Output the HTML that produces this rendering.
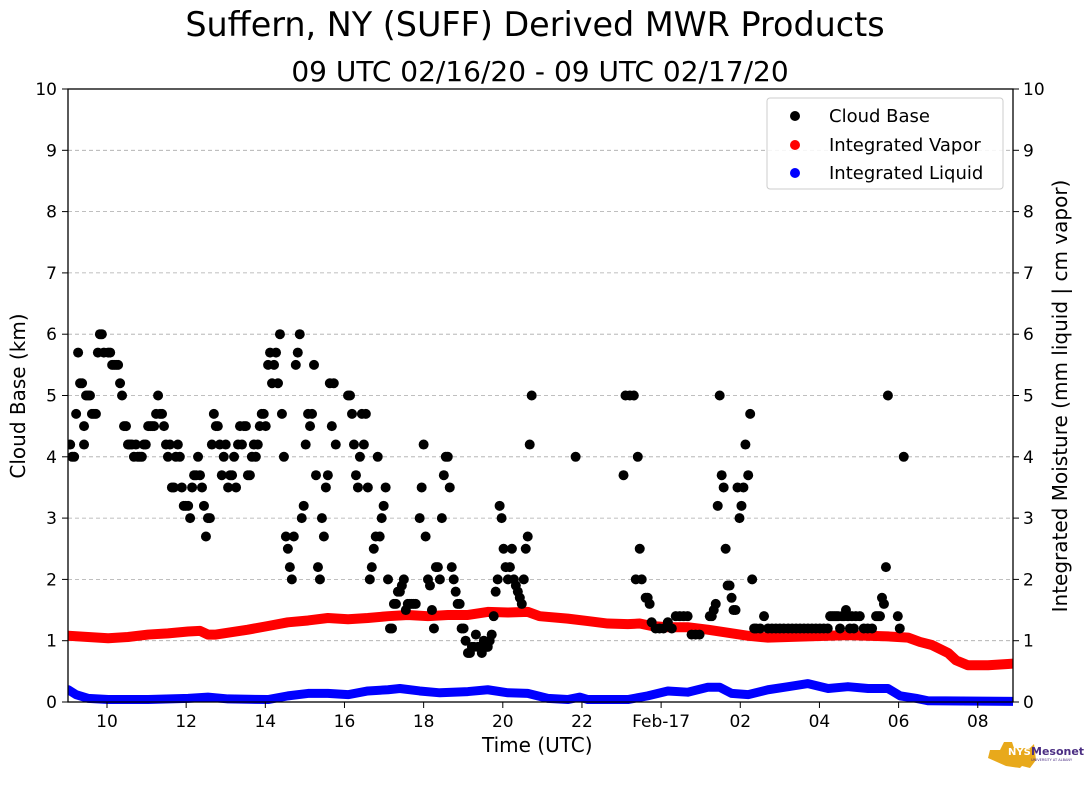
<!DOCTYPE html>
<html><head><meta charset="utf-8"><style>
body{margin:0;background:#fff;font-family:"Liberation Sans","DejaVu Sans",sans-serif;}
</style></head><body>
<svg id="c" width="1089" height="804" xmlns="http://www.w3.org/2000/svg" font-family="DejaVu Sans, Liberation Sans, sans-serif">
<defs><clipPath id="pc"><rect x="68" y="60" width="945" height="660"/></clipPath></defs>
<text x="535" y="36" font-size="33.4" text-anchor="middle">Suffern, NY (SUFF) Derived MWR Products</text>
<text x="540" y="81" font-size="28" text-anchor="middle">09 UTC 02/16/20 - 09 UTC 02/17/20</text>
<g id="grid"></g>
<g id="marks" clip-path="url(#pc)"></g>
<rect x="68" y="89" width="945" height="613" fill="none" stroke="#000" stroke-width="1.3"/>
<g id="axes" font-size="17"></g>
<text x="482" y="752" font-size="20">Time (UTC)</text>
<text transform="translate(25,396) rotate(-90)" font-size="20" text-anchor="middle">Cloud Base (km)</text>
<text transform="translate(1067,396) rotate(-90)" font-size="20" text-anchor="middle">Integrated Moisture (mm liquid | cm vapor)</text>
<g>
<rect x="767" y="98" width="236" height="91" rx="3" fill="#fff" fill-opacity="0.85" stroke="#ccc"/>
<circle cx="795" cy="116" r="5" fill="#000"/><text x="829" y="122" font-size="18">Cloud Base</text>
<circle cx="795" cy="145" r="5" fill="red"/><text x="829" y="151" font-size="18">Integrated Vapor</text>
<circle cx="795" cy="173" r="5" fill="blue"/><text x="829" y="179" font-size="18">Integrated Liquid</text>
</g>
<g>
<path d="M990,750 L1000,750 L1004,742 L1012,742 L1014,748 L1030,748 L1034,744 L1036,760 L1030,768 L1022,766 L1020,768 L1006,766 L988,758 Z" fill="#e8a91b"/>
<text x="1008" y="755" font-size="10" font-weight="bold" fill="#fff">NYS</text>
<text x="1031" y="755" font-size="11" font-weight="bold" fill="#4b2e83">Mesonet</text>
<text x="1031" y="761" font-size="3.5" fill="#4b2e83">UNIVERSITY AT ALBANY</text>
</g>
</svg>
<script>
const cbHours=[9.07,9.12,9.17,9.22,9.27,9.32,9.37,9.42,9.42,9.47,9.52,9.57,9.62,9.67,9.72,9.77,9.82,9.87,9.92,
10.03,10.08,10.13,10.18,10.23,10.28,10.33,10.38,10.43,10.48,10.53,10.58,10.63,10.68,10.73,10.78,10.83,10.88,10.93,10.98,
11.04,11.09,11.14,11.19,11.24,11.29,11.34,11.39,11.44,11.49,11.54,11.59,11.64,11.69,11.74,11.79,11.84,11.89,11.94,11.99,
12.05,12.1,12.15,12.2,12.25,12.3,12.35,12.4,12.45,12.5,12.55,12.6,12.65,12.7,12.75,12.8,12.85,12.9,12.95,13.0,
13.06,13.11,13.16,13.21,13.26,13.31,13.36,13.41,13.46,13.51,13.56,13.61,13.66,13.71,13.76,13.81,13.86,13.91,13.96,14.01,
14.07,14.12,14.17,14.22,14.27,14.32,14.37,14.42,14.47,14.52,14.57,14.62,14.67,14.72,14.77,14.82,14.87,14.92,14.97,15.02,
15.08,15.13,15.18,15.23,15.28,15.33,15.38,15.43,15.48,15.53,15.58,15.63,15.68,15.73,15.78,
16.09,16.14,16.19,16.24,16.29,16.34,16.39,16.44,16.49,16.54,16.59,16.64,16.69,16.74,16.79,16.84,16.89,16.94,16.99,17.04,
17.1,17.15,17.2,17.25,17.3,17.35,17.4,17.45,17.5,17.55,17.6,17.65,17.7,17.75,17.8,17.9,17.95,18.0,18.05,
18.11,18.16,18.21,18.26,18.31,18.36,18.41,18.46,18.51,18.56,18.61,18.66,18.71,18.76,18.81,18.86,18.91,18.96,19.01,19.06,
19.12,19.17,19.22,19.27,19.32,19.37,19.42,19.47,19.52,19.57,19.62,19.67,19.72,19.77,19.82,19.87,19.92,19.97,20.02,20.07,
20.13,20.18,20.23,20.28,20.33,20.38,20.43,20.48,20.53,20.58,20.63,20.68,20.73,21.84,23.05,23.1,
23.21,23.31,23.36,23.41,23.46,23.51,23.61,23.66,23.71,23.76,23.86,23.96,24.06,
24.17,24.27,24.37,24.47,24.57,24.67,24.77,24.87,24.97,
25.23,25.28,25.33,25.38,25.43,25.48,25.53,25.58,25.63,25.68,25.73,25.78,25.83,25.88,25.93,25.98,26.03,26.08,26.13,
26.2,26.25,26.3,26.35,26.4,26.5,26.6,26.7,26.8,26.9,27.0,27.1,
27.21,27.31,27.41,27.51,27.61,27.71,27.81,27.91,28.01,28.11,28.21,
28.27,28.32,28.37,28.42,28.47,28.52,28.57,28.62,28.67,28.72,28.77,28.82,28.87,28.92,29.02,29.12,29.22,
29.33,29.43,29.48,29.53,29.58,29.63,29.68,29.73,29.98,30.03,30.13];
const cbKm=[4.2,4.0,4.0,4.7,5.7,5.2,5.2,4.5,4.2,5.0,5.0,5.0,4.7,4.7,4.7,5.7,6.0,6.0,5.7,5.7,5.7,5.5,5.5,5.5,5.5,5.2,5.0,4.5,4.5,4.2,4.2,4.2,4.0,4.2,4.0,4.0,4.0,4.2,4.2,4.5,4.5,4.5,4.5,4.7,5.0,4.7,4.7,4.5,4.2,4.0,4.2,3.5,3.5,4.0,4.2,4.0,3.5,3.2,3.2,3.2,3.0,3.5,3.7,3.7,4.0,3.7,3.5,3.2,2.7,3.0,3.0,4.2,4.7,4.5,4.5,4.2,3.7,4.0,4.2,3.5,3.7,3.7,4.0,3.5,4.2,4.5,4.2,4.5,4.5,3.7,3.7,4.0,4.2,4.0,4.2,4.5,4.7,4.7,4.5,5.5,5.7,5.2,5.5,5.7,5.2,6.0,4.7,4.0,2.7,2.5,2.2,2.0,2.7,5.5,5.7,6.0,3.0,3.2,4.2,4.7,4.5,4.7,5.5,3.7,2.2,2.0,3.0,2.7,3.5,3.7,5.2,4.5,5.2,4.2,5.0,5.0,4.7,4.2,3.7,3.5,4.0,4.7,4.2,4.7,3.5,2.0,2.2,2.5,2.7,4.0,2.7,3.0,3.2,3.5,2.0,1.2,1.2,1.6,1.6,1.8,1.8,1.9,2.0,1.5,1.6,1.6,1.6,1.6,1.6,3.0,3.5,4.2,2.7,2.0,1.9,1.5,1.2,2.2,2.2,2.0,3.0,3.7,4.0,4.0,3.5,2.2,2.0,1.8,1.6,1.6,1.2,1.2,1.0,0.8,0.8,0.9,0.9,1.1,0.9,0.9,0.8,1.0,0.9,0.9,1.0,1.1,1.4,1.8,2.0,3.2,3.0,2.5,2.2,2.0,2.2,2.5,2.0,1.9,1.8,1.7,1.6,2.0,2.5,2.7,4.2,5.0,4.0,3.7,5.0,5.0,5.0,2.0,4.0,2.5,2.0,1.7,1.7,1.6,1.3,1.2,1.2,1.2,1.3,1.2,1.4,1.4,1.4,1.4,1.1,1.1,1.1,1.4,1.4,1.5,1.6,3.2,5.0,3.7,3.5,2.5,1.9,1.9,1.7,1.5,1.5,3.5,3.0,3.2,3.5,4.2,3.7,4.7,2.0,1.2,1.2,1.2,1.4,1.2,1.2,1.2,1.2,1.2,1.2,1.2,1.2,1.2,1.2,1.2,1.2,1.2,1.2,1.2,1.2,1.4,1.4,1.4,1.4,1.4,1.2,1.4,1.4,1.5,1.4,1.2,1.4,1.2,1.4,1.4,1.2,1.2,1.2,1.4,1.4,1.4,1.7,1.6,2.2,5.0,1.4,1.2,4.0];
const vapHours=[9.02,9.52,10.03,10.53,11.04,11.54,12.05,12.35,12.55,12.75,13.06,13.56,14.07,14.57,15.08,15.58,16.09,16.59,17.1,17.6,18.11,18.61,19.12,19.62,20.13,20.63,20.93,21.64,22.15,22.65,23.16,23.46,23.76,24.17,24.67,25.18,25.68,26.2,26.7,27.21,27.71,28.22,28.72,29.23,29.73,30.24,30.54,30.84,31.25,31.45,31.75,32.26,32.76,33];
const vapVals=[1.08,1.06,1.04,1.06,1.1,1.12,1.15,1.16,1.1,1.1,1.13,1.18,1.24,1.3,1.33,1.37,1.35,1.37,1.4,1.42,1.4,1.42,1.42,1.47,1.46,1.47,1.4,1.36,1.32,1.28,1.27,1.28,1.24,1.22,1.22,1.18,1.13,1.08,1.05,1.06,1.07,1.08,1.09,1.08,1.07,1.05,0.98,0.93,0.8,0.68,0.6,0.6,0.62,0.63];
const liqHours=[9.02,9.22,9.52,10.03,11.04,12.05,12.55,13.06,14.07,14.57,15.08,15.58,16.09,16.59,17.1,17.4,17.9,18.41,19.12,19.62,20.13,20.63,21.14,21.64,21.94,22.15,23.16,23.66,24.17,24.67,25.18,25.48,25.78,26.2,26.7,27.21,27.71,28.22,28.72,29.23,29.73,30.04,30.44,30.74,33];
const liqVals=[0.2,0.12,0.06,0.04,0.04,0.06,0.08,0.05,0.04,0.1,0.14,0.14,0.12,0.18,0.2,0.22,0.18,0.15,0.17,0.2,0.15,0.14,0.06,0.04,0.08,0.04,0.04,0.1,0.18,0.16,0.24,0.24,0.14,0.12,0.2,0.25,0.3,0.22,0.25,0.22,0.22,0.1,0.06,0.02,0.01];
const xTicks=[10,12,14,16,18,20,22,24,26,28,30,32];
const xTickLabels=["10","12","14","16","18","20","22","Feb-17","02","04","06","08"];
const yTicks=[0,1,2,3,4,5,6,7,8,9,10];

const NS="http://www.w3.org/2000/svg";
const X=h=>107+(h-10)*39.58;
const Y=v=>702-v/10*613;
function mk(t,a,p){const e=document.createElementNS(NS,t);for(const k in a)e.setAttribute(k,a[k]);p.appendChild(e);return e;}
const grid=document.getElementById('grid'),marks=document.getElementById('marks'),axes=document.getElementById('axes');
yTicks.forEach(v=>{
  if(v>0&&v<10){const g=mk('line',{x1:68,x2:1013,y1:Y(v),y2:Y(v),stroke:'#aaa','stroke-dasharray':'4,3','stroke-width':0.8},grid);
  
  }
  mk('line',{x1:62,x2:68,y1:Y(v),y2:Y(v),stroke:'#000'},axes);
  mk('line',{x1:1013,x2:1019,y1:Y(v),y2:Y(v),stroke:'#000'},axes);
  const t=mk('text',{x:57,y:Y(v)+6,'text-anchor':'end'},axes);t.textContent=v;
  
  
  const t2=mk('text',{x:1023,y:Y(v)+6},axes);t2.textContent=v;
  
  
});
xTicks.forEach((h,i)=>{
  mk('line',{x1:X(h),x2:X(h),y1:702,y2:708,stroke:'#000'},axes);
  const t=mk('text',{x:X(h),y:727,'text-anchor':'middle'},axes);t.textContent=xTickLabels[i];
  
  
});
function line(hs,vs,col,w,name){
  const p=mk('polyline',{points:hs.map((h,i)=>X(h)+','+Y(vs[i])).join(' '),fill:'none',stroke:col,'stroke-width':w,'stroke-linejoin':'round','stroke-linecap':'round'},marks);
  
  
}
line(liqHours,liqVals,'blue',9,'integrated-liquid-line');
line(vapHours,vapVals,'red',10,'integrated-vapor-line');
cbHours.forEach((h,i)=>{
  const c=mk('circle',{cx:X(h),cy:Y(cbKm[i]),r:5,fill:'#000'},marks);
  
  
});
</script>
</body></html>
